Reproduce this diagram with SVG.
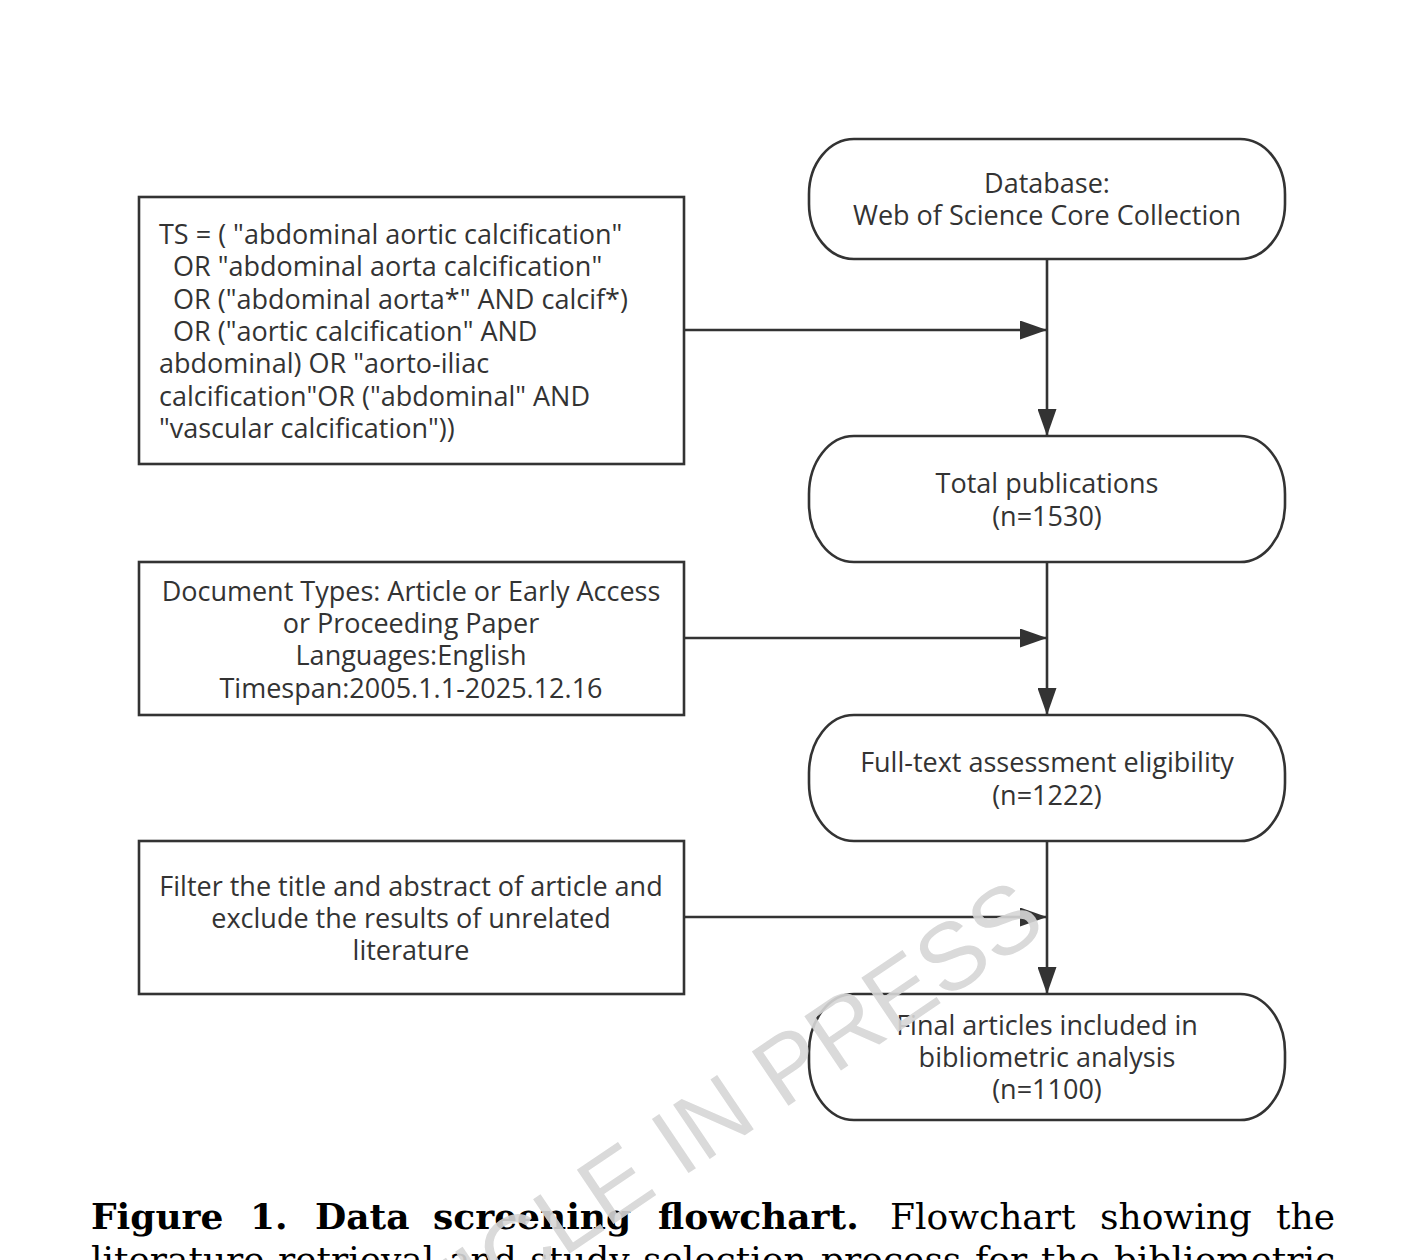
<svg xmlns="http://www.w3.org/2000/svg" width="1425" height="1260" viewBox="0 0 1425 1260">
<defs>
<style>
.box{fill:#ffffff;stroke:#333333;stroke-width:2.6}
.t{font-family:"Open Sans","Noto Sans","DejaVu Sans",sans-serif;font-size:27px;fill:#333333}
.c{text-anchor:middle}
.edge{stroke:#333333;stroke-width:2.6;fill:none;marker-end:url(#arr)}
.cap{font-family:"DejaVu Serif","Liberation Serif",serif;font-size:36px;fill:#000000}
.b{font-weight:bold}
.wm{font-family:"Liberation Sans",Arial,sans-serif;font-size:95px;fill:#d6d6d6;opacity:0.9}
</style>
<marker id="arr" viewBox="0 0 27 19" markerUnits="userSpaceOnUse" markerWidth="27" markerHeight="19" refX="27" refY="9.5" orient="auto">
<path d="M0,0 L27,9.5 L0,19 z" fill="#333333"/>
</marker>
</defs>
<rect x="0" y="0" width="1425" height="1260" fill="#ffffff"/>

<g id="query">
<rect class="box" x="139" y="197" width="545" height="267"/>
<text class="t" x="159" y="244">TS = ( "abdominal aortic calcification"</text>
<text class="t" x="173" y="276">OR "abdominal aorta calcification"</text>
<text class="t" x="173" y="309">OR ("abdominal aorta*" AND calcif*)</text>
<text class="t" x="173" y="341">OR ("aortic calcification" AND</text>
<text class="t" x="159" y="373">abdominal) OR "aorto-iliac</text>
<text class="t" x="159" y="406">calcification"OR ("abdominal" AND</text>
<text class="t" x="159" y="438">"vascular calcification"))</text>
</g>

<g id="filters">
<rect class="box" x="139" y="562" width="545" height="153"/>
<text class="t c" x="411" y="601">Document Types: Article or Early Access</text>
<text class="t c" x="411" y="633">or Proceeding Paper</text>
<text class="t c" x="411" y="665">Languages:English</text>
<text class="t c" x="411" y="698">Timespan:2005.1.1-2025.12.16</text>
</g>

<g id="screen">
<rect class="box" x="139" y="841" width="545" height="153"/>
<text class="t c" x="411" y="896">Filter the title and abstract of article and</text>
<text class="t c" x="411" y="928">exclude the results of unrelated</text>
<text class="t c" x="411" y="960">literature</text>
</g>

<g id="database">
<rect class="box" x="809" y="139" width="476" height="120" rx="45" ry="55"/>
<text class="t c" x="1047" y="193">Database:</text>
<text class="t c" x="1047" y="225">Web of Science Core Collection</text>
</g>

<g id="total">
<rect class="box" x="809" y="436" width="476" height="126" rx="45" ry="58"/>
<text class="t c" x="1047" y="493">Total publications</text>
<text class="t c" x="1047" y="526">(n=1530)</text>
</g>

<g id="fulltext">
<rect class="box" x="809" y="715" width="476" height="126" rx="45" ry="58"/>
<text class="t c" x="1047" y="772">Full-text assessment eligibility</text>
<text class="t c" x="1047" y="805">(n=1222)</text>
</g>

<g id="final">
<rect class="box" x="809" y="994" width="476" height="126" rx="45" ry="58"/>
<text class="t c" x="1047" y="1035">Final articles included in</text>
<text class="t c" x="1047" y="1067">bibliometric analysis</text>
<text class="t c" x="1047" y="1099">(n=1100)</text>
</g>

<g id="connectors">
<line class="edge" x1="1047" y1="259" x2="1047" y2="436"/>
<line class="edge" x1="684" y1="330" x2="1047" y2="330"/>
<line class="edge" x1="1047" y1="562" x2="1047" y2="715"/>
<line class="edge" x1="684" y1="638" x2="1047" y2="638"/>
<line class="edge" x1="1047" y1="841" x2="1047" y2="994"/>
<line class="edge" x1="684" y1="917" x2="1047" y2="917"/>
</g>

<g id="caption">
<text class="cap" y="1229"><tspan class="b" x="91">Figure</tspan><tspan class="b" x="250">1.</tspan><tspan class="b" x="315">Data</tspan><tspan class="b" x="433">screening</tspan><tspan class="b" x="658">flowchart.</tspan><tspan x="890">Flowchart</tspan><tspan x="1100">showing</tspan><tspan x="1276">the</tspan></text>
<text class="cap" y="1272"><tspan x="91">literature</tspan><tspan x="278">retrieval</tspan><tspan x="449">and</tspan><tspan x="530">study</tspan><tspan x="643">selection</tspan><tspan x="821">process</tspan><tspan x="975">for</tspan><tspan x="1041">the</tspan><tspan x="1114">bibliometric</tspan></text>
</g>

<g id="watermark">
<text class="wm" transform="translate(1049,930) rotate(-34)" text-anchor="end">ARTICLE IN PRESS</text>
</g>
</svg>
